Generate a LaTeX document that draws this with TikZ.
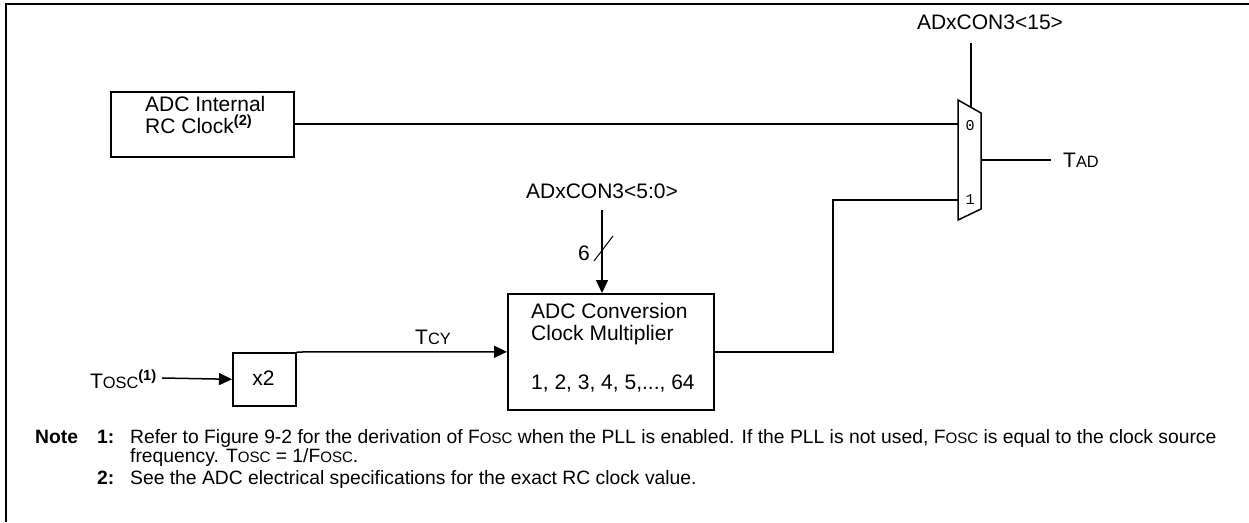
\documentclass[tikz,border=0pt]{standalone}
\usepackage{fontspec}
\usepackage{graphicx}
\setmainfont{Liberation Sans}
\newfontfamily\muxfont{Liberation Mono}
\usetikzlibrary{arrows.meta}
\newcommand\smc[1]{\scalebox{0.78}{#1}}
\begin{document}
\begin{tikzpicture}[x=1pt,y=-1pt,
  wire/.style={line width=1.5pt},
  box/.style={draw, line width=1.6pt, inner sep=0pt},
  arr/.style={wire, -{Triangle[length=13pt,width=12pt]}},
  lbl/.style={font=\fontsize{21}{22}\selectfont, inner sep=0pt},
  note/.style={font=\fontsize{19.3}{21}\selectfont, inner sep=0pt, anchor=base west},
  bnote/.style={note, font=\bfseries\fontsize{19.3}{21}\selectfont},
  muxlbl/.style={font=\muxfont\fontsize{15}{16}\selectfont, inner sep=0pt}]
\useasboundingbox (0,0) rectangle (1249,522);
% frame
\draw[line width=2.2pt] (6,522) -- (6,4) -- (1249,4);

% RC clock box
\node[box, minimum width=183, minimum height=65, anchor=north west] (rc) at (110,91) {};
\node[lbl, anchor=base west] (rct1) at (145,111) {ADC Internal};
\node[lbl, anchor=base west] (rct2) at (145,133) {RC Clock\textsuperscript{\textbf{(2)}}};

% multiplexer
\coordinate (mA) at (958,100);
\coordinate (mB) at (981,113);
\coordinate (mC) at (981,209);
\coordinate (mD) at (958,220);
\draw[wire, line join=miter] (mA) -- (mB) -- (mC) -- (mD) -- cycle;
\coordinate (m0) at (958,124);
\coordinate (m1) at (958,200);
\coordinate (mout) at (981,160);
\coordinate (msel) at (971,107);
\node[muxlbl] (mux0) at (970,126) {0};
\node[muxlbl] (mux1) at (970,200) {1};

\node[lbl] (sel15) at (990,22) {ADxCON3<15>};
\coordinate (selTop) at (971,43);
\draw[wire] (selTop) -- (msel);

\draw[wire] (rc.east |- m0) -- (m0);

\node[lbl, anchor=west] (tad) at (1063,160) {T\smc{AD}};
\coordinate (tadEnd) at (1051,160);
\draw[wire] (mout) -- (tadEnd);

% multiplier box
\node[box, minimum width=206, minimum height=116, anchor=north west] (mult) at (507,293) {};
\node[lbl, anchor=base west] (mt1) at (531,318) {ADC Conversion};
\node[lbl, anchor=base west] (mt2) at (531,340) {Clock Multiplier};
\node[lbl, anchor=base west] (mt3) at (531,389) {1, 2, 3, 4, 5,..., 64};

\node[lbl] (sel50) at (602,191) {ADxCON3<5:0>};
\coordinate (busTop) at (602,210);
\coordinate (multTop) at (602,293);
\draw[arr] (busTop) -- (multTop);
\coordinate (slA) at (594,261);
\coordinate (slB) at (613,236);
\draw[line width=1pt] (slA) -- (slB);
\node[lbl] (six) at (584,253) {6};

\coordinate (bend) at (833,200);
\draw[wire] (mult.east) -| (bend) -- (m1);

% x2 box and inputs
\node[box, minimum width=63, minimum height=53, anchor=north west] (x2) at (232,352) {};
\node[lbl] (x2text) at (263.5,378) {x2};
\draw[arr] (x2.north east) -- (mult.west);
\node[lbl] (tcy) at (433,337) {T\smc{CY}};

\node[lbl, anchor=east] (tosc) at (157,379) {T\smc{OSC}\textsuperscript{\textbf{(1)}}};
\coordinate (toscStart) at (162,378);
\draw[arr] (toscStart) -- (x2.west);

% notes
\node[bnote] (noteW) at (35,443) {Note};
\node[bnote] (n1) at (97,443) {1:};
\node[note] (n1a) at (130,443) {Refer to Figure 9-2 for the derivation of F\smc{OSC} when the PLL is enabled. If the PLL is not used, F\smc{OSC} is equal to the clock source};
\node[note] (n1b) at (130,462) {frequency. T\smc{OSC} = 1/F\smc{OSC}.};
\node[bnote] (n2) at (97,484) {2:};
\node[note] (n2a) at (130,484) {See the ADC electrical specifications for the exact RC clock value.};
\end{tikzpicture}
\end{document}
